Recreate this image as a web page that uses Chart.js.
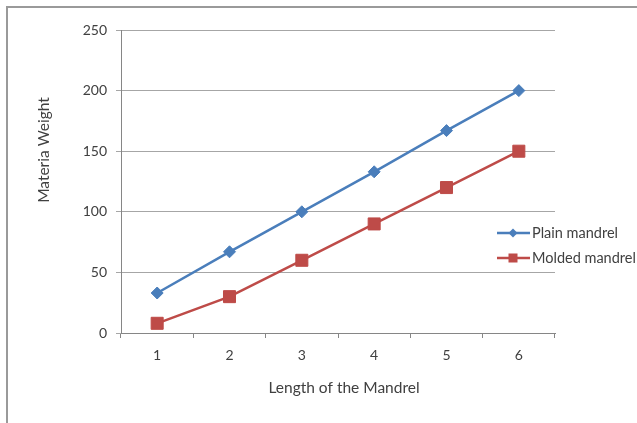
<!DOCTYPE html>
<html lang="en">
<head>
  <meta charset="UTF-8" />
  <title>Materia Weight vs Length of the Mandrel</title>
  <script src="https://cdn.jsdelivr.net/npm/chart.js"></script>
  <style>
    body { margin: 0; background: #fff; }
    .wrap { position: relative; width: 637px; height: 423px; overflow: hidden; }
    .frame { position: absolute; left: 6px; top: 6px; width: 700px; height: 500px; border: 2px solid #9a9a9a; }
    canvas { position: absolute; left: 0; top: 0; }
  </style>
</head>
<body>
  <div class="wrap">
    <div class="frame"></div>
    <canvas id="chart" width="637" height="423"></canvas>
  </div>

  <script>
    const lengths = ["1", "2", "3", "4", "5", "6"];
    const plainMandrel = [33, 67, 100, 133, 167, 200];
    const moldedMandrel = [8, 30, 60, 90, 120, 150];
    const yTicks = [0, 50, 100, 150, 200, 250];

    const textColor = "#404040";
    const fontName = "Lato, 'Open Sans', sans-serif";

    // axis titles and legend drawn by hand to sit where Excel put them
    const extras = {
      id: "extras",
      afterDraw(chart) {
        const ctx = chart.ctx;
        ctx.save();
        ctx.fillStyle = textColor;
        ctx.font = "15.5px " + fontName;
        ctx.textAlign = "center";
        ctx.textBaseline = "middle";
        ctx.fillText("Length of the Mandrel", 344, 388);

        ctx.translate(44, 150);
        ctx.rotate(-Math.PI / 2);
        ctx.fillText("Materia Weight", 0, 0);
        ctx.restore();

        ctx.save();
        ctx.font = "14.5px " + fontName;
        ctx.textBaseline = "middle";
        ctx.textAlign = "left";
        chart.data.datasets.forEach((ds, i) => {
          const y = 233 + i * 25;
          ctx.strokeStyle = ds.borderColor;
          ctx.lineWidth = 2.5;
          ctx.beginPath();
          ctx.moveTo(497, y);
          ctx.lineTo(530, y);
          ctx.stroke();
          ctx.fillStyle = ds.backgroundColor;
          if (ds.pointStyle === "rectRot") {
            ctx.beginPath();
            ctx.moveTo(513, y - 4.5);
            ctx.lineTo(517.5, y);
            ctx.lineTo(513, y + 4.5);
            ctx.lineTo(508.5, y);
            ctx.closePath();
            ctx.fill();
          } else {
            ctx.fillRect(508.5, y - 4.5, 9, 9);
          }
          ctx.fillStyle = textColor;
          ctx.fillText(ds.label, 532, y);
        });
        ctx.restore();
      }
    };

    new Chart(document.getElementById("chart"), {
      type: "line",
      data: {
        labels: lengths,
        datasets: [
          {
            label: "Plain mandrel",
            data: plainMandrel,
            borderColor: "#4a7ebb",
            backgroundColor: "#4a7ebb",
            borderWidth: 2.5,
            pointStyle: "rectRot",
            pointRadius: 6,
            pointBorderWidth: 1,
            tension: 0
          },
          {
            label: "Molded mandrel",
            data: moldedMandrel,
            borderColor: "#be4b48",
            backgroundColor: "#be4b48",
            borderWidth: 2.5,
            pointStyle: "rect",
            pointRadius: 8.5,
            pointBorderWidth: 1,
            tension: 0
          }
        ]
      },
      options: {
        responsive: false,
        animation: false,
        layout: { padding: { left: 0, top: 30, right: 82, bottom: 0 } },
        plugins: { legend: { display: false }, tooltip: { enabled: false } },
        scales: {
          x: {
            offset: true,
            afterFit(s) { s.height = 90; },
            grid: { offset: true, drawOnChartArea: false, drawTicks: true, tickLength: 5, color: "#868686" },
            border: { color: "#868686", width: 1 },
            ticks: { color: textColor, font: { size: 14, family: fontName }, padding: 9, maxRotation: 0 }
          },
          y: {
            min: 0,
            max: 250,
            afterFit(s) { s.width = 121; },
            afterBuildTicks(s) { s.ticks = yTicks.map(v => ({ value: v })); },
            grid: { color: "#a6a6a6", tickLength: 5 },
            border: { color: "#868686", width: 1 },
            ticks: { color: textColor, font: { size: 14, family: fontName }, padding: 9 }
          }
        }
      },
      plugins: [extras]
    });
  </script>
</body>
</html>
